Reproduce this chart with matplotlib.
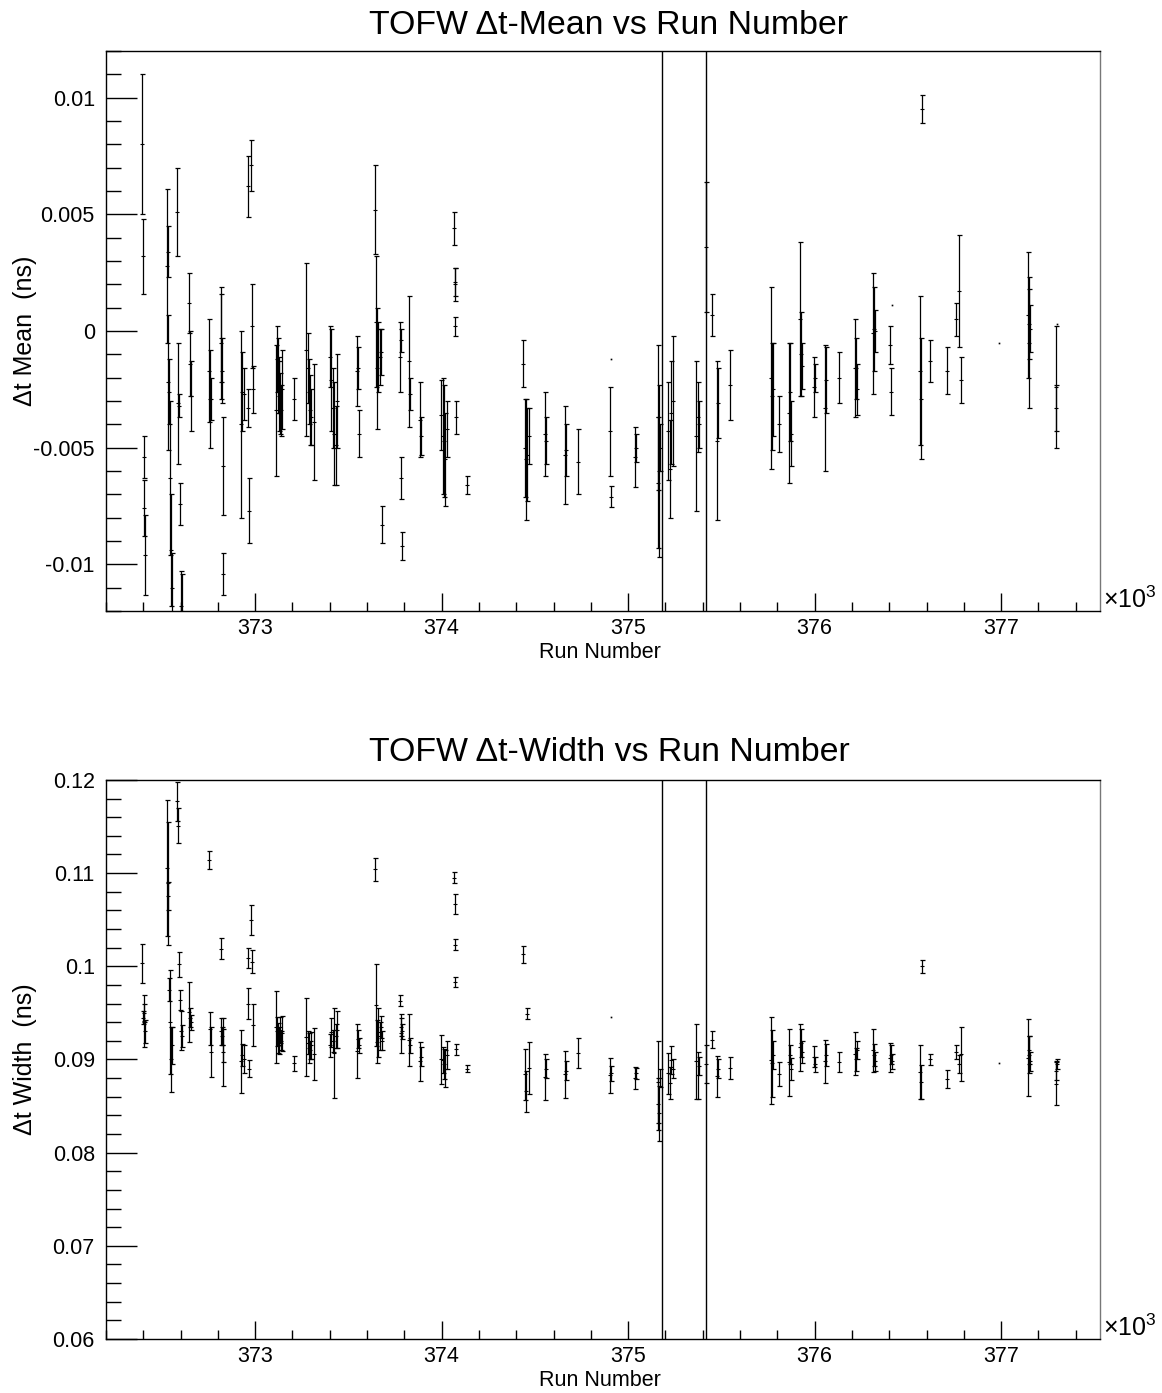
import matplotlib
matplotlib.use("Agg")
import matplotlib.pyplot as plt
from matplotlib.ticker import MultipleLocator, FuncFormatter

plt.rcParams['font.family'] = ['Liberation Sans', 'DejaVu Sans']
plt.rcParams['mathtext.fontset'] = 'custom'
plt.rcParams['mathtext.rm'] = 'Liberation Sans'
plt.rcParams['mathtext.it'] = 'Liberation Sans'

# run numbers (one line per group of runs)
runs = [
    372395, 372398, 372402, 372405, 372408,
    372525, 372530, 372535, 372540, 372545, 372550, 372555,
    372580, 372585, 372590, 372595, 372600, 372605,
    372645, 372650, 372655,
    372750, 372758, 372765,
    372815, 372818, 372822, 372826, 372830,
    372925, 372930, 372940, 372960, 372962, 372965, 372980, 372983, 372986,
    373112, 373118, 373122, 373126, 373130, 373134, 373138, 373142, 373210,
    373275, 373282, 373288, 373294, 373300, 373318,
    373400, 373408, 373415, 373425, 373432, 373440,
    373545, 373550, 373555,
    373645, 373650, 373655, 373660, 373668, 373675, 373680,
    373775, 373780, 373784, 373788,
    373825, 373828,
    373885, 373890,
    373995, 374005, 374012, 374020, 374028,
    374068, 374070, 374072, 374074, 374076,
    374135,
    374438, 374445, 374452, 374460, 374468,
    374552, 374558,
    374660, 374666,
    374731,
    374902, 374906, 374910,
    375036, 375042,
    375158, 375162, 375166, 375170,
    375215, 375222, 375230, 375240,
    375365, 375372, 375380, 375420, 375452,
    375475, 375480,
    375547,
    375765, 375770, 375775,
    375810,
    375865, 375870, 375875,
    375920, 375925, 375930,
    375998, 376003,
    376054, 376060,
    376132,
    376218, 376222, 376226,
    376314, 376318, 376322,
    376405, 376410, 376415,
    376565, 376570, 376578,
    376620,
    376710,
    376760, 376775, 376785,
    376990,
    377143, 377148, 377152, 377156,
    377292, 377296, 377299,
]

dt_mean = [
    0.0080, 0.0032, -0.0054, -0.0076, -0.0096,
    0.0028, 0.0034, -0.0022, -0.0026, -0.0063, -0.0094, -0.0110,
    0.0051, -0.0031, -0.0032, -0.0074, -0.0118, -0.0120,
    0.0012, -0.0014, -0.0028,
    -0.0017, -0.0029, -0.0029,
    -0.0005, -0.0003, -0.0017, -0.0058, -0.0104,
    -0.0040, -0.0026, -0.0027, 0.0062, -0.0033, -0.0077, 0.0071, 0.0002, -0.0025,
    -0.0034, -0.0012, -0.0019, -0.0023, -0.0028, -0.0031, -0.0034, -0.0025, -0.0029,
    -0.0008, -0.0016, -0.0026, -0.0034, -0.0037, -0.0039,
    -0.0011, -0.0021, -0.0033, -0.0044, -0.0049, -0.0030,
    -0.0017, -0.0016, -0.0044,
    0.0052, 0.0004, -0.0016, -0.0011, -0.0011, -0.0009, -0.0083,
    -0.0011, -0.0004, -0.0063, -0.0092,
    -0.0013, -0.0027,
    -0.0038, -0.0045,
    -0.0036, -0.0045, -0.0047, -0.0055, -0.0042,
    0.0044, 0.0020, 0.0021, 0.0002, -0.0037,
    -0.0066,
    -0.0014, -0.0050, -0.0055, -0.0053, -0.0045,
    -0.0044, -0.0047,
    -0.0053, -0.0051,
    -0.0056,
    -0.0043, -0.0071, -0.0012,
    -0.0054, -0.0050,
    -0.0065, -0.0037, -0.0060, -0.0050,
    -0.0043, -0.0059, -0.0035, -0.0030,
    -0.0045, -0.0037, -0.0040, 0.0036, 0.0007,
    -0.0047, -0.0031,
    -0.0023,
    -0.0020, -0.0028, -0.0025,
    -0.0040,
    -0.0035, -0.0026, -0.0044,
    0.0005, -0.0010, -0.0015,
    -0.0024, -0.0020,
    -0.0033, -0.0021,
    -0.0020,
    -0.0016, -0.0016, -0.0025,
    -0.0001, 0.0001, 0.0000,
    -0.0006, -0.0026, 0.0011,
    -0.0017, -0.0029, 0.0095,
    -0.0013,
    -0.0017,
    0.0005, 0.0017, -0.0021,
    -0.0005,
    0.0007, -0.0005, 0.0003, 0.0001,
    -0.0024, -0.0033, 0.0003,
]

dt_mean_err = [
    0.0030, 0.0016, 0.0009, 0.0012, 0.0017,
    0.0033, 0.0011, 0.0029, 0.0014, 0.0033, 0.0024, 0.0015,
    0.0019, 0.0026, 0.0005, 0.0009, 0.0015, 0.0016,
    0.0013, 0.0014, 0.0015,
    0.0022, 0.0021, 0.0009,
    0.0024, 0.0019, 0.0014, 0.0021, 0.0009,
    0.0040, 0.0017, 0.0011, 0.0013, 0.0008, 0.0014, 0.0011, 0.0018, 0.0010,
    0.0028, 0.0014, 0.0016, 0.0012, 0.0015, 0.0013, 0.0011, 0.0017, 0.0009,
    0.0037, 0.0015, 0.0014, 0.0015, 0.0012, 0.0025,
    0.0013, 0.0022, 0.0017, 0.0022, 0.0017, 0.0020,
    0.0015, 0.0009, 0.0010,
    0.0019, 0.0028, 0.0026, 0.0015, 0.0012, 0.0010, 0.0008,
    0.0015, 0.0005, 0.0009, 0.0006,
    0.0028, 0.0007,
    0.0016, 0.0008,
    0.0015, 0.0025, 0.0024, 0.0020, 0.0012,
    0.0007, 0.0007, 0.0006, 0.0004, 0.0007,
    0.0004,
    0.0010, 0.0021, 0.0026, 0.0020, 0.0012,
    0.0018, 0.0010,
    0.0021, 0.0011,
    0.0014,
    0.0019, 0.00045, 0.0,
    0.0013, 0.0006,
    0.0028, 0.0031, 0.0037, 0.0010,
    0.0021, 0.0021, 0.0022, 0.0028,
    0.0032, 0.0015, 0.0010, 0.0028, 0.0009,
    0.0034, 0.0015,
    0.0015,
    0.0039, 0.0023, 0.0020,
    0.0012,
    0.0030, 0.0021, 0.0014,
    0.0033, 0.0018, 0.0010,
    0.0013, 0.0006,
    0.0027, 0.0014,
    0.0011,
    0.0021, 0.0013, 0.0011,
    0.0026, 0.0018, 0.0009,
    0.0008, 0.0010, 0.0,
    0.0032, 0.0026, 0.0006,
    0.0009,
    0.0010,
    0.0007, 0.0024, 0.0010,
    0.0,
    0.0027, 0.0028, 0.0015, 0.0010,
    0.0026, 0.0010, 0.0,
]

dt_width = [
    0.1003, 0.0945, 0.0941, 0.0950, 0.0930,
    0.1105, 0.1089, 0.1075, 0.0975, 0.0940, 0.0900, 0.0915,
    0.1177, 0.1151, 0.1002, 0.0964, 0.0931, 0.0925,
    0.0951, 0.0945, 0.0940,
    0.1114, 0.0933, 0.0908,
    0.1019, 0.0930, 0.0925, 0.0908, 0.0915,
    0.0898, 0.0905, 0.0900, 0.1009, 0.0960, 0.0890, 0.1050, 0.1005, 0.0937,
    0.0935, 0.0930, 0.0923, 0.0925, 0.0918, 0.0932, 0.0920, 0.0928, 0.0896,
    0.0924, 0.0918, 0.0912, 0.0910, 0.0915, 0.0906,
    0.0915, 0.0929, 0.0920, 0.0907, 0.0925, 0.0932,
    0.0909, 0.0922, 0.0915,
    0.1104, 0.0958, 0.0919, 0.0929, 0.0925, 0.0935, 0.0920,
    0.0963, 0.0928, 0.0935, 0.0930,
    0.0921, 0.0915,
    0.0898, 0.0903,
    0.0900, 0.0899, 0.0895, 0.0890, 0.0905,
    0.1095, 0.1067, 0.1023, 0.0983, 0.0911,
    0.0890,
    0.1013, 0.0884, 0.0866, 0.0949, 0.0891,
    0.0881, 0.0890,
    0.0884, 0.0888,
    0.0907,
    0.0883, 0.0885, 0.0946,
    0.0880, 0.0885,
    0.0876, 0.0852, 0.0842, 0.0880,
    0.0885, 0.0875, 0.0899, 0.0890,
    0.0898, 0.0883, 0.0893, 0.0895, 0.0921,
    0.0882, 0.0890,
    0.0891,
    0.0899, 0.0896, 0.0905,
    0.0884,
    0.0897, 0.0905, 0.0890,
    0.0913, 0.0918, 0.0908,
    0.0903, 0.0895,
    0.0898, 0.0905,
    0.0897,
    0.0906, 0.0900, 0.0910,
    0.0910, 0.0905, 0.0898,
    0.0902, 0.0905, 0.0898,
    0.0887, 0.0876, 0.1000,
    0.0900,
    0.0879,
    0.0908, 0.0895, 0.0906,
    0.0896,
    0.0902, 0.0905, 0.0910, 0.0898,
    0.0874, 0.0888, 0.0895,
]

dt_width_err = [
    0.0021, 0.0007, 0.0028, 0.0010, 0.0012,
    0.0073, 0.0066, 0.0015, 0.0012, 0.0056, 0.0035, 0.0020,
    0.0021, 0.0019, 0.0013, 0.0011, 0.0021, 0.0012,
    0.0032, 0.0010, 0.0008,
    0.0010, 0.0018, 0.0027,
    0.0011, 0.0015, 0.0010, 0.0037, 0.0018,
    0.0034, 0.0012, 0.0015, 0.0011, 0.0017, 0.0009, 0.0016, 0.0012, 0.0023,
    0.0039, 0.0016, 0.0016, 0.0010, 0.0012, 0.0014, 0.0010, 0.0019, 0.0008,
    0.0042, 0.0012, 0.0016, 0.0010, 0.0014, 0.0028,
    0.0012, 0.0016, 0.0012, 0.0048, 0.0013, 0.0020,
    0.0029, 0.0010, 0.0008,
    0.0012, 0.0044, 0.0023, 0.0026, 0.0015, 0.0012, 0.0010,
    0.0006, 0.0021, 0.0010, 0.0008,
    0.0028, 0.0008,
    0.0021, 0.0010,
    0.0026, 0.0014, 0.0016, 0.0020, 0.0015,
    0.0006, 0.0011, 0.0006, 0.0005, 0.0006,
    0.0004,
    0.0009, 0.0027, 0.0022, 0.0006, 0.0028,
    0.0025, 0.0010,
    0.0025, 0.0010,
    0.0016,
    0.0019, 0.0008, 0.0,
    0.0012, 0.0006,
    0.0044, 0.0028, 0.0030, 0.0010,
    0.0022, 0.0017, 0.0015, 0.0010,
    0.0040, 0.0025, 0.0010, 0.0020, 0.0009,
    0.0022, 0.0010,
    0.0012,
    0.0047, 0.0036, 0.0015,
    0.0013,
    0.0036, 0.0010, 0.0012,
    0.0025, 0.0015, 0.0012,
    0.0011, 0.0008,
    0.0023, 0.0012,
    0.0011,
    0.0023, 0.0012, 0.0010,
    0.0023, 0.0012, 0.0010,
    0.0016, 0.0010, 0.0008,
    0.0029, 0.0018, 0.0007,
    0.0006,
    0.0010,
    0.0007, 0.0010, 0.0029,
    0.0,
    0.0041, 0.0020, 0.0015, 0.0010,
    0.0023, 0.0010, 0.0005,
]

# boundary runs marked with vertical lines
marker_runs = [375180, 375420]


def fmt_num(v, pos):
    if abs(v) < 1e-12:
        return '0'
    return '%g' % round(v, 6)


def draw_points(ax, x, y, err):
    # runs with a measurable error get a capped bar, the rest only a dot
    xb = [a for a, e in zip(x, err) if e > 0]
    yb = [b for b, e in zip(y, err) if e > 0]
    eb = [e for e in err if e > 0]
    xd = [a for a, e in zip(x, err) if e == 0]
    yd = [b for b, e in zip(y, err) if e == 0]
    ax.errorbar(xb, yb, yerr=eb, fmt='none', ecolor='black',
                elinewidth=0.9, capsize=1.8, capthick=0.9)
    ax.plot(xb, yb, '_', color='black', ms=3, mew=0.8)
    ax.plot(xd, yd, 's', color='black', ms=1.2, mew=0)


def style_axes(ax, ylo, yhi, major, minor, ylabel):
    ax.set_xlim(372200, 377530)
    ax.set_ylim(ylo, yhi)
    ax.xaxis.set_major_locator(MultipleLocator(1000))
    ax.xaxis.set_minor_locator(MultipleLocator(200))
    ax.yaxis.set_major_locator(MultipleLocator(major))
    ax.yaxis.set_minor_locator(MultipleLocator(minor))
    ax.xaxis.set_major_formatter(FuncFormatter(lambda v, p: '%g' % (v / 1000.0)))
    ax.yaxis.set_major_formatter(FuncFormatter(fmt_num))
    ax.tick_params(which='both', direction='in', top=False, right=False,
                   labelsize=15.5, width=1.0, color='black')
    ax.tick_params(axis='y', which='major', length=22, pad=8)
    ax.tick_params(axis='y', which='minor', length=11)
    ax.tick_params(axis='x', which='major', length=13, pad=5)
    ax.tick_params(axis='x', which='minor', length=6.5)
    for s in ax.spines.values():
        s.set_linewidth(1.0)
    ax.spines['right'].set_color('#777777')
    ax.set_xlabel('Run Number', fontsize=15.5)
    ax.xaxis.set_label_coords(0.497, -0.055)
    ax.set_ylabel(ylabel, fontsize=18)
    ax.yaxis.set_label_coords(-0.069, 0.5)
    ax.text(1.003, -0.004, '×10$^{3}$', transform=ax.transAxes, ha='left', va='bottom',
            fontsize=18)
    for r in marker_runs:
        ax.axvline(r, color='black', lw=1.0)


fig = plt.figure(figsize=(11.62, 13.93), dpi=100)
ax1 = fig.add_axes([0.0912, 0.5614, 0.8554, 0.4020])
ax2 = fig.add_axes([0.0912, 0.0388, 0.8554, 0.4013])

draw_points(ax1, runs, dt_mean, dt_mean_err)
style_axes(ax1, -0.012, 0.012, 0.005, 0.001, 'Δt Mean  (ns)')

draw_points(ax2, runs, dt_width, dt_width_err)
style_axes(ax2, 0.06, 0.12, 0.01, 0.002, 'Δt Width  (ns)')

fig.text(0.524, 0.982, 'TOFW Δt-Mean vs Run Number', ha='center', va='center', fontsize=24.4)
fig.text(0.524, 0.4601, 'TOFW Δt-Width vs Run Number', ha='center', va='center', fontsize=24.4)

fig.savefig('out.png', dpi=100)
